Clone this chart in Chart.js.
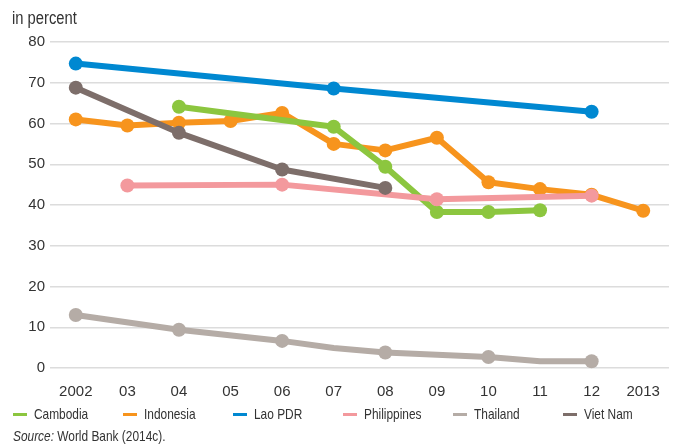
<!DOCTYPE html>
<html>
<head>
<meta charset="utf-8">
<script src="https://cdn.jsdelivr.net/npm/chart.js@4.4.1/dist/chart.umd.min.js"></script>
<style>
  html, body { margin: 0; padding: 0; background: #fff; }
  body { width: 676px; height: 448px; position: relative; overflow: hidden;
         font-family: "Liberation Sans", Arial, sans-serif; color: #333; }
  .cond { display: inline-block; transform: scaleX(0.82); transform-origin: 0 50%; }
  #unit { position: absolute; left: 12px; top: 8px; font-size: 18px; color: #333; white-space: nowrap; }
  #wrap { position: absolute; left: 0; top: 0; width: 676px; height: 420px; }
  #legend { position: absolute; left: 13px; top: 404px; height: 20px; }
  .item { position: absolute; top: 0; font-size: 14.5px; white-space: nowrap; line-height: 20px; }
  .item i { position: absolute; left: 0; top: 9px; width: 14px; height: 3px; }
  .item span { position: absolute; left: 21px; top: 0; }
  #source { position: absolute; left: 13px; top: 428px; font-size: 14.5px; color: #333; white-space: nowrap; }
</style>
</head>
<body>
<div id="wrap"><canvas id="c" width="676" height="420"></canvas></div>
<div id="unit"><span class="cond">in percent</span></div>
<div id="legend"></div>
<div id="source"><span class="cond"><em>Source:</em> World Bank (2014c).</span></div>
<script>
const categories = ["2002","03","04","05","06","07","08","09","10","11","12","2013"];
const seriesNames = ["Cambodia","Indonesia","Lao PDR","Philippines","Thailand","Viet Nam"];
const cambodia    = [null, null, 64.1, null, null, 59.2, 49.4, 38.3, 38.3, 38.7, null, null];
const indonesia   = [61.0, 59.5, 60.2, 60.6, 62.6, 55.0, 53.4, 56.5, 45.6, 43.9, 42.5, 38.6];
const laoPDR      = [74.7, null, null, null, null, 68.6, null, null, null, null, 62.9, null];
const philippines = [null, 44.8, null, null, 45.0, null, null, 41.4, null, null, 42.3, null];
const thailand    = [13.0, null, 9.4, null, 6.65, 4.9, 3.8, null, 2.7, 1.65, 1.65, null];
const vietNam     = [68.8, null, 57.7, null, 48.7, null, 44.2, null, null, null, null, null];
const yTicks = [0, 10, 20, 30, 40, 50, 60, 70, 80];

const colors = {
  "Cambodia": "#8cc63f",
  "Indonesia": "#f7941d",
  "Lao PDR": "#0088d1",
  "Philippines": "#f3999d",
  "Thailand": "#b5aca6",
  "Viet Nam": "#7d6e6a"
};
const values = {
  "Cambodia": cambodia, "Indonesia": indonesia, "Lao PDR": laoPDR,
  "Philippines": philippines, "Thailand": thailand, "Viet Nam": vietNam
};
const drawOrder = { "Lao PDR": 1, "Viet Nam": 2, "Philippines": 3, "Cambodia": 4, "Indonesia": 5, "Thailand": 6 };

const datasets = seriesNames.map(name => ({
  label: name,
  data: values[name],
  borderColor: colors[name],
  backgroundColor: colors[name],
  borderWidth: 6,
  tension: 0,
  spanGaps: true,
  borderJoinStyle: "round",
  borderCapStyle: "round",
  pointRadius: name === "Thailand" ? (ctx => (ctx.dataIndex % 2 === 0 ? 7 : 0)) : 7,
  pointHoverRadius: 7,
  pointBorderWidth: 0,
  order: drawOrder[name],
  clip: false
}));

const tickFont = "'Liberation Sans', Arial, sans-serif";

new Chart(document.getElementById("c"), {
  type: "line",
  data: { labels: categories, datasets },
  options: {
    responsive: false,
    animation: false,
    events: [],
    layout: { padding: { top: 42, right: 2, bottom: 4, left: 0 } },
    plugins: { legend: { display: false }, tooltip: { enabled: false } },
    scales: {
      x: {
        offset: true,
        grid: { display: false, drawTicks: false },
        border: { display: false },
        ticks: { color: "#333", font: { family: tickFont, size: 15 }, padding: 15, maxRotation: 0, autoSkip: false }
      },
      y: {
        min: 0, max: 80,
        afterBuildTicks: axis => { axis.ticks = yTicks.map(v => ({ value: v })); },
        afterFit: axis => { axis.width = 50; },
        grid: { color: "#dcdcdc", lineWidth: 1.5, drawTicks: false },
        border: { display: false },
        ticks: { color: "#333", font: { family: tickFont, size: 15 }, padding: 5 }
      }
    }
  }
});

const legend = document.getElementById("legend");
seriesNames.forEach((name, i) => {
  const d = document.createElement("div");
  d.className = "item";
  d.style.left = (i * 110) + "px";
  d.innerHTML = '<i style="background:' + colors[name] + '"></i><span class="cond">' + name + '</span>';
  legend.appendChild(d);
});
</script>
</body>
</html>
